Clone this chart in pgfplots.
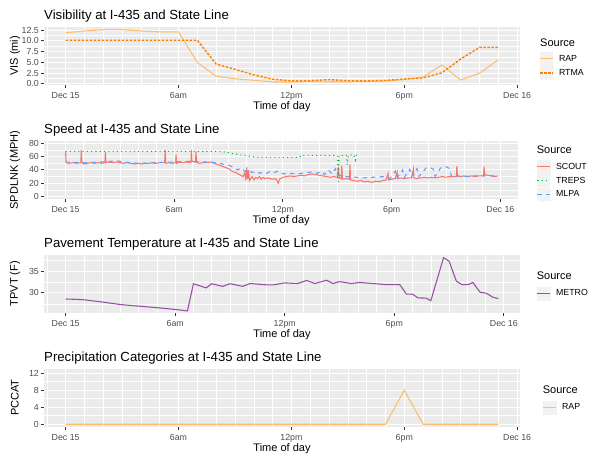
\documentclass[border=0pt]{standalone}
\usepackage{fontspec}
\setmainfont{Liberation Sans}
\usepackage{pgfplots}
\pgfplotsset{compat=1.18}
\definecolor{panelbg}{HTML}{EBEBEB}
\definecolor{tickl}{HTML}{4D4D4D}
\definecolor{tickc}{HTML}{333333}
\definecolor{keybg}{HTML}{F2F2F2}
\definecolor{rapc}{HTML}{FDBF6F}
\definecolor{rtmac}{HTML}{FF7F00}
\definecolor{scoutc}{HTML}{F8766D}
\definecolor{trepsc}{HTML}{00BA38}
\definecolor{mlpac}{HTML}{619CFF}
\definecolor{metroc}{HTML}{984EA3}
\newcommand{\fs}[1]{\fontsize{#1}{#1}\selectfont}
\pgfplotsset{
  gg/.style={
    scale only axis,
    height=58.3pt,
    axis background/.style={fill=panelbg},
    axis line style={draw=none},
    grid=both,
    major grid style={white, line width=1.07pt},
    minor grid style={white, line width=0.53pt},
    tick align=outside,
    tick pos=left,
    major tick length=2.75pt,
    minor tick length=0pt,
    tick style={tickc, line width=1.07pt},
    xtick={0,6,12,18,24},
    xticklabels={Dec 15,6am,12pm,6pm,Dec 16},
    minor xtick={-1,1,2,3,4,5,7,8,9,10,11,13,14,15,16,17,19,20,21,22,23},
    tick label style={font=\fs{8.8}, text=tickl, inner sep=0pt},
    xticklabel style={anchor=base, yshift=-10.95pt},
    yticklabel style={anchor=east, xshift=-2.2pt},
    every axis title/.style={at={(axis description cs:0,1)}, anchor=base west, yshift=7.4pt, inner sep=0pt, font=\fs{13.2}},
    every axis x label/.style={at={(axis description cs:0.5,0)}, anchor=base, yshift=-24.7pt, inner sep=0pt, font=\fs{11}},
    every axis y label/.style={at={(axis description cs:-0.061,0.5)}, rotate=90, anchor=center, inner sep=0pt, font=\fs{11}},
    xlabel={Time of day},
    legend style={draw=none, fill=none, inner sep=0pt, row sep=0pt, font=\fs{8.8},
      at={(axis description cs:1,1)}, anchor=north west, nodes={inner sep=0pt},
      /tikz/every odd column/.append style={column sep=5.5pt}},
    legend cell align=left,
    legend image code/.code={\fill[keybg] (0pt,-6.4pt) rectangle (12.6pt,6.4pt); \draw (0pt,0pt) -- (12.6pt,0pt);},
  }
}
\begin{document}
\begin{tikzpicture}
\path[use as bounding box] (0,0) rectangle (600pt,-463pt);

% ---------------- Panel 1: Visibility
\begin{axis}[gg, at={(44pt,-26.7pt)}, anchor=north west, width=476pt,
  xmin=-1.15, xmax=24.15, ymin=-0.25, ymax=13.3,
  ytick={0,2.5,5,7.5,10,12.5}, yticklabels={0.0,2.5,5.0,7.5,10.0,12.5},
  minor ytick={1.25,3.75,6.25,8.75,11.25},
  title={Visibility at I-435 and State Line}, ylabel={VIS (mi)},
  legend style={xshift=19.3pt, yshift=-25pt}]
\addplot[rapc, line width=1.07pt] coordinates {
(0,11.9)(1,12.3)(2,12.6)(3,12.6)(4,12.3)(5,12.1)(6,12.1)(7,5.0)(8,1.8)(9,1.2)(10,0.85)(11,0.45)
(12,0.45)(13,0.55)(14,0.5)(15,0.5)(16,0.55)(17,0.7)(18,1.0)(19,1.6)(20,4.4)(21,0.9)(22,2.5)(23,5.6)};
\addlegendentry{RAP}
\addplot[rtmac, line width=1.4pt, dash pattern=on 2.5pt off 1.5pt] coordinates {
(0,10.15)(1,10.15)(2,10.15)(3,10.15)(4,10.15)(5,10.15)(6,10.15)(7,10.15)(8,4.6)(9,3.4)(10,2.1)(11,1.1)
(12,0.7)(13,0.75)(14,1.0)(15,0.75)(16,0.7)(17,0.8)(18,1.15)(19,1.4)(20,2.6)(21,5.8)(22,8.5)(23,8.5)};
\addlegendentry{RTMA}
\end{axis}
\node[anchor=base west, inner sep=0pt, font=\fs{11}] at (540pt,-46.2pt) {Source};

% ---------------- Panel 2: Speed
\begin{axis}[gg, at={(44pt,-140.8pt)}, anchor=north west, width=474.3pt,
  xmin=-1.19, xmax=24.99, ymin=-4, ymax=84,
  ytick={0,20,40,60,80}, yticklabels={0,20,40,60,80},
  minor ytick={10,30,50,70},
  every axis y label/.append style={at={(axis description cs:-0.0611,0.5)}},
  title={Speed at I-435 and State Line}, ylabel={SPDLNK (MPH)},
  legend style={xshift=18.4pt, yshift=-19pt}]
\addplot[scoutc, line width=1.07pt] coordinates {
(0,68)(0.03,51)(0.2,50)(0.4,51)(0.6,50)(0.84,51)(0.87,70)(0.9,51)(1.0,49)(1.2,50)(1.4,51)(1.6,50)(1.8,51)(2.0,50)
(2.17,51)(2.2,67)(2.23,51)(2.4,52)(2.6,51)(2.8,52)(3.0,51)(3.2,50)(3.4,51)(3.6,50)(3.8,49)(4.0,50)(4.2,49)(4.4,50)
(4.6,50)(4.8,51)(5.0,50)(5.2,51)(5.47,51)(5.5,70)(5.53,50)(5.7,51)(5.9,50)(6.07,51)(6.1,63)(6.13,50)(6.3,52)(6.5,51)
(6.7,52)(6.92,51)(6.95,70)(6.98,53)(7.17,52)(7.2,68)(7.23,51)(7.4,50)(7.6,51)(7.8,51)(8.0,52)(8.2,50)(8.4,48)(8.6,46)
(8.8,44)(9.0,42)(9.2,38)(9.4,36)(9.6,33)(9.8,30)(9.9,36)(9.95,24)(10.0,44)(10.05,26)(10.1,40)(10.15,24)(10.3,30)
(10.4,25)(10.5,29)(10.6,27)(10.7,30)(10.8,26)(10.9,29)(11.0,27)(11.2,28)(11.4,26)(11.6,27)(11.75,20)(11.8,26)(12.0,29)
(12.2,30)(12.4,31)(12.6,30)(12.8,31)(13.0,32)(13.2,31)(13.4,33)(13.6,34)(13.8,33)(14.0,32)(14.2,31)(14.4,30)(14.6,29)
(14.8,30)(15.0,29)(15.06,45)(15.1,28)(15.22,27)(15.25,47)(15.28,26)(15.5,27)(15.67,26)(15.7,48)(15.73,25)(15.9,24)
(16.1,23)(16.3,24)(16.5,22)(16.7,23)(16.9,21)(17.1,23)(17.3,22)(17.5,24)(17.7,25)(17.8,35)(17.83,25)(18.0,26)(18.2,27)
(18.3,37)(18.33,27)(18.5,28)(18.7,27)(18.9,28)(19.1,28)(19.2,41)(19.23,28)(19.4,27)(19.6,28)(19.8,29)(20.0,28)(20.2,29)
(20.4,28)(20.6,29)(20.8,30)(21.0,29)(21.2,30)(21.4,30)(21.57,30)(21.6,46)(21.63,31)(21.8,30)(22.0,31)(22.2,30)(22.4,31)
(22.6,30)(22.8,31)(23.07,31)(23.1,45)(23.13,33)(23.3,32)(23.5,31)(23.7,30)(23.85,31)};
\addlegendentry{SCOUT}
\addplot[trepsc, line width=1.07pt, dash pattern=on 1.07pt off 3.2pt] coordinates {
(0,68)(2,68)(4,68)(6,68)(8,68)(8.5,68)(8.8,67)(9.2,65)(9.6,63)(10.0,61.5)(10.5,59.5)(11,59)(12,59)(12.9,59)
(13.0,62)(13.5,62)(14,62)(14.5,61.5)(15.0,62)(15.06,22)(15.1,62)(15.5,62)(15.55,48)(15.6,62)(15.9,63)(16.0,55)
(16.05,63)(16.15,62)};
\addlegendentry{TREPS}
\addplot[mlpac, line width=1.07pt, dash pattern=on 4.3pt off 4.3pt] coordinates {
(0,52)(1,51)(2,52)(2.5,53)(2.8,54)(3.2,52)(4,50)(5,51)(6,52)(6.5,53)(7,53)(7.5,52)(8,52)(8.5,50)(9,47)(9.3,44)
(9.5,40)(9.7,43)(9.9,38)(10.1,40)(10.3,36)(10.5,38)(10.7,35)(10.9,37)(11.1,35)(11.3,38)(11.5,36)(11.7,38)(11.9,35)
(12.1,34)(12.4,35)(12.7,34)(13,35)(13.3,36)(13.6,37)(13.9,35)(14.1,38)(14.3,33)(14.5,40)(14.7,34)(14.9,42)(15.0,33)
(15.2,31)(15.5,30)(16,29)(16.5,28)(17,29)(17.5,30)(17.9,27)(18.2,38)(18.3,28)(18.6,40)(18.7,29)(19.0,41)(19.1,30)
(19.4,42)(19.5,30)(19.9,43)(20.1,44)(20.3,41)(20.4,30)(20.7,43)(21.0,45)(21.2,42)(21.3,30)(21.6,31)(22,30)(22.5,31)
(23,31)(23.5,31)(23.9,31)};
\addlegendentry{MLPA}
\end{axis}
\node[anchor=base west, inner sep=0pt, font=\fs{11}] at (536.7pt,-153.6pt) {Source};

% ---------------- Panel 3: Pavement temperature
\begin{axis}[gg, at={(44pt,-254.6pt)}, anchor=north west, width=476pt,
  xmin=-1.185, xmax=24.885, ymin=25.4, ymax=38.8,
  ytick={30,35}, yticklabels={30,35},
  minor ytick={27.5,32.5,37.5},
  title={Pavement Temperature at I-435 and State Line}, ylabel={TPVT (F)},
  legend style={xshift=16.7pt, yshift=-31.9pt}]
\addplot[metroc, line width=1.07pt] coordinates {
(0,28.6)(0.95,28.45)(2.0,27.9)(3.05,27.3)(4.0,26.95)(5.0,26.6)(6.0,26.2)(6.67,25.85)(7.0,32.1)(7.7,31.15)(8.0,32.1)
(8.6,31.5)(9.0,32.1)(9.7,31.5)(10.1,32.15)(11,31.85)(11.4,31.85)(12,32.3)(12.7,32.15)(13.2,32.85)(13.65,32.15)
(14.3,32.9)(14.65,32.15)(15,32.6)(15.65,32.15)(16.1,32.4)(17.55,31.9)(18.3,31.9)(18.67,29.7)(19.0,29.7)(19.3,28.85)
(19.75,28.8)(20.0,28.2)(20.7,38.1)(21.0,37.3)(21.4,32.7)(21.7,31.9)(22.05,31.9)(22.3,32.4)(22.7,30.15)(23.05,29.9)
(23.4,29.0)(23.7,28.7)};
\addlegendentry{METRO}
\end{axis}
\node[anchor=base west, inner sep=0pt, font=\fs{11}] at (536.7pt,-279.6pt) {Source};

% ---------------- Panel 4: Precipitation categories
\begin{axis}[gg, at={(44pt,-368.5pt)}, anchor=north west, width=476pt,
  xmin=-1.15, xmax=24.15, ymin=-0.6, ymax=13.1,
  ytick={0,4,8,12}, yticklabels={0,4,8,12},
  minor ytick={2,6,10},
  title={Precipitation Categories at I-435 and State Line}, ylabel={PCCAT},
  legend style={xshift=22.7pt, yshift=-32pt}]
\addplot[rapc, line width=1.07pt] coordinates {
(0,0)(1,0)(2,0)(3,0)(4,0)(5,0)(6,0)(7,0)(8,0)(9,0)(10,0)(11,0)(12,0)(13,0)(14,0)(15,0)(16,0)(17,0)(18,8)
(19,0)(20,0)(21,0)(22,0)(23,0)};
\addlegendentry{RAP}
\end{axis}
\node[anchor=base west, inner sep=0pt, font=\fs{11}] at (542.7pt,-393pt) {Source};
\end{tikzpicture}
\end{document}
